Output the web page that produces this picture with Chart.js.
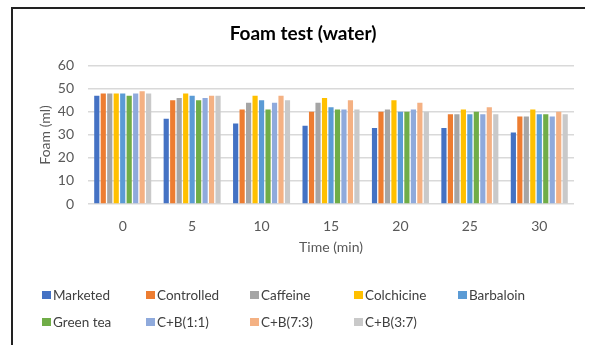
<!DOCTYPE html>
<html>
<head>
<meta charset="utf-8">
<script src="https://cdn.jsdelivr.net/npm/chart.js@4"></script>
<style>
  html, body { margin: 0; padding: 0; background: #fff; }
  #wrap { position: relative; width: 590px; height: 345px; overflow: hidden; }
  #frame { position: absolute; left: 11px; top: 7px; right: 5px; bottom: -5px;
           border-top: 2px solid #222; border-left: 2px solid #222; }
  #foamChart { position: absolute; left: 0; top: 0; }
  #legend { position: absolute; left: 42px; top: 286px; width: 540px;
            display: grid; grid-template-columns: repeat(5, 104px); row-gap: 9px;
            font-family: Lato, sans-serif; font-size: 13.5px; color: #404040; }
  #legend .item { display: flex; align-items: center; height: 18px; white-space: nowrap; }
  #legend .box { width: 9px; height: 8px; margin-right: 2px; }
</style>
</head>
<body>
<div id="wrap">
  <div id="frame"></div>
  <canvas id="foamChart" width="590" height="345"></canvas>
  <div id="legend"></div>
</div>
<script>
const times = ['0', '5', '10', '15', '20', '25', '30'];
const seriesNames = ['Marketed', 'Controlled', 'Caffeine', 'Colchicine', 'Barbaloin', 'Green tea', 'C+B(1:1)', 'C+B(7:3)', 'C+B(3:7)'];
const seriesColors = ['#4472C4', '#ED7D31', '#A5A5A5', '#FFC000', '#5B9BD5', '#70AD47', '#8FAADC', '#F4B183', '#C9C9C9'];

// foam volume (ml) per series
const marketed   = [47, 37, 35, 34, 33, 33, 31];
const controlled = [48, 45, 41, 40, 40, 39, 38];
const caffeine   = [48, 46, 44, 44, 41, 39, 38];
const colchicine = [48, 48, 47, 46, 45, 41, 41];
const barbaloin  = [48, 47, 45, 42, 40, 39, 39];
const greenTea   = [47, 45, 41, 41, 40, 40, 39];
const cb11       = [48, 46, 44, 41, 41, 39, 38];
const cb73       = [49, 47, 47, 45, 44, 42, 40];
const cb37       = [48, 47, 45, 41, 40, 39, 39];
const seriesValues = [marketed, controlled, caffeine, colchicine, barbaloin, greenTea, cb11, cb73, cb37];

const yTicks = [0, 10, 20, 30, 40, 50, 60];

const datasets = seriesNames.map((name, i) => ({
    label: name,
    data: seriesValues[i],
    backgroundColor: seriesColors[i],
    borderWidth: 0,
    categoryPercentage: 0.84,
    barPercentage: 0.8
}));

const ctx = document.getElementById('foamChart').getContext('2d');
const foamChart = new Chart(ctx, {
    type: 'bar',
    data: { labels: times, datasets: datasets },
    options: {
        responsive: false,
        animation: false,
        layout: { padding: { left: 32, right: 16, top: 0, bottom: 89 } },
        plugins: {
            legend: { display: false },
            tooltip: { enabled: false },
            title: {
                display: true,
                text: 'Foam test (water)',
                color: '#000',
                font: { family: 'Lato', size: 19, weight: 'bold' },
                padding: { top: 22, bottom: 21 }
            }
        },
        scales: {
            x: {
                afterFit: (scale) => { scale.height = 52; },
                grid: { display: false, drawTicks: false },
                border: { display: false },
                ticks: { color: '#595959', font: { family: 'Lato', size: 14 }, padding: 14 },
                title: {
                    display: true,
                    text: 'Time (min)',
                    color: '#595959',
                    font: { family: 'Lato', size: 14 },
                    padding: { top: 0, bottom: 0 }
                }
            },
            y: {
                min: 0,
                max: 60,
                afterBuildTicks: (scale) => { scale.ticks = yTicks.map(v => ({ value: v })); },
                afterFit: (scale) => { scale.width = 56; },
                grid: { color: '#D9D9D9', lineWidth: 1.5, drawTicks: false },
                border: { display: false },
                ticks: { color: '#595959', font: { family: 'Lato', size: 14 }, padding: 14 },
                title: {
                    display: true,
                    text: 'Foam (ml)',
                    color: '#595959',
                    font: { family: 'Lato', size: 14 },
                    padding: { top: 5, bottom: 0 }
                }
            }
        }
    }
});

// legend laid out as a 5-column grid like the original
const legendEl = document.getElementById('legend');
foamChart.data.datasets.forEach(ds => {
    const item = document.createElement('div');
    item.className = 'item';
    const box = document.createElement('span');
    box.className = 'box';
    box.style.background = ds.backgroundColor;
    const txt = document.createElement('span');
    txt.textContent = ds.label;
    item.appendChild(box);
    item.appendChild(txt);
    legendEl.appendChild(item);
});
</script>
</body>
</html>
